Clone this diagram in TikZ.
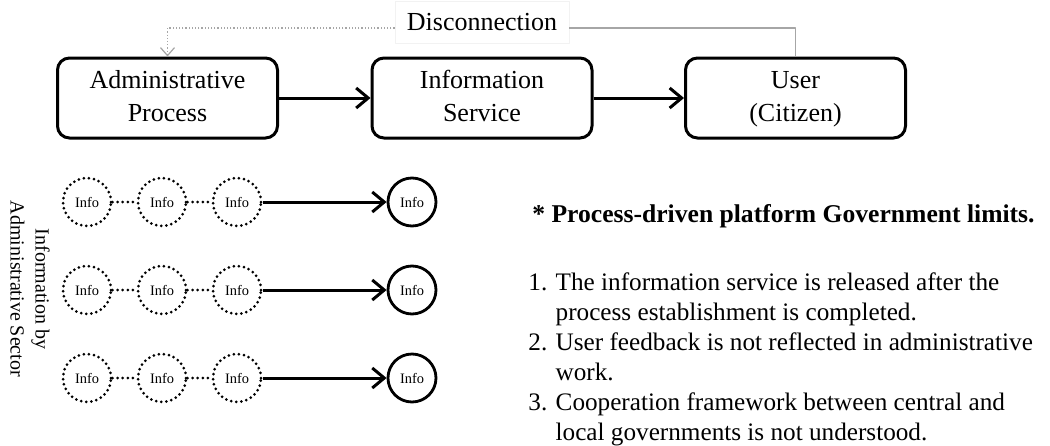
\documentclass[tikz,border=0pt]{standalone}
\usepackage{fontspec}
\setmainfont{Liberation Serif}
\usetikzlibrary{arrows.meta}
\tikzset{
	procbox/.style={draw, line width=1.5pt, rounded corners=6pt, minimum width=110pt, minimum height=40pt, inner sep=0pt, align=center, font=\fontsize{13}{16.5}\selectfont},
	infodot/.style={circle, draw, line width=1.5pt, dash pattern=on 0pt off 2.55pt, line cap=round, minimum size=24pt, inner sep=0pt, font=\fontsize{7.2}{8}\selectfont},
	infosolid/.style={circle, draw, line width=1.4pt, minimum size=24pt, inner sep=0pt, font=\fontsize{7.2}{8}\selectfont},
	dotlink/.style={line width=1.5pt, dash pattern=on 0pt off 2.55pt, line cap=round},
	flow/.style={line width=1.5pt, -{Straight Barb[length=6pt,width=10pt]}},
	feedback/.style={gray!70, line width=0.6pt, densely dotted, -{Straight Barb[length=4pt,width=7pt]}}
}
\begin{document}
\begin{tikzpicture}[x=0.5pt, y=-0.5pt, line join=round]
	\useasboundingbox (0,0) rectangle (1050,445);
	% process chain
	\node[procbox] (admin) at (167.5,98) {\strut Administrative\\\strut Process};
	\node[procbox] (service) at (482,98) {\strut Information\\\strut Service};
	\node[procbox] (user) at (795.5,98) {\strut User\\\strut (Citizen)};
	\draw[flow] (admin) -- (service);
	\draw[flow] (service) -- (user);
	% feedback that never comes back
	\node[draw=gray!10, fill=white, inner xsep=6pt, minimum height=21pt, font=\fontsize{13}{16}\selectfont] (disc) at (482,22) {Disconnection};
	\draw[gray!70, line width=0.6pt] (user.north) |- ([yshift=-3pt]disc.east);
	\draw[feedback] ([yshift=-3pt]disc.west) -| (admin.north);
	% information rows
	\foreach \r/\y in {1/202,2/290,3/378}{
		\node[infodot] (a\r) at (87,\y) {Info};
		\node[infodot] (b\r) at (162,\y) {Info};
		\node[infodot] (c\r) at (237,\y) {Info};
		\node[infosolid] (d\r) at (412,\y) {Info};
		\draw[dotlink] (a\r) -- (b\r);
		\draw[dotlink] (b\r) -- (c\r);
		\draw[flow] (c\r) -- (d\r);
	}
	\node[rotate=-90, align=center, inner sep=0pt, font=\fontsize{10}{12.5}\selectfont] (sector) at (30,289) {Information by\\Administrative Sector};
	% limits
	\node[anchor=west, inner sep=0pt, font=\bfseries\fontsize{12.8}{15}\selectfont] (limits) at (532,216) {* Process-driven platform Government limits.};
	\node[anchor=north west, inner sep=0pt, align=left, font=\fontsize{12.6}{15}\selectfont] (items) at (528,272)
		{1. The information service is released after the\\
		\phantom{1. }process establishment is completed.\\
		2. User feedback is not reflected in administrative\\
		\phantom{2. }work.\\
		3. Cooperation framework between central and\\
		\phantom{3. }local governments is not understood.};
\end{tikzpicture}
\end{document}
